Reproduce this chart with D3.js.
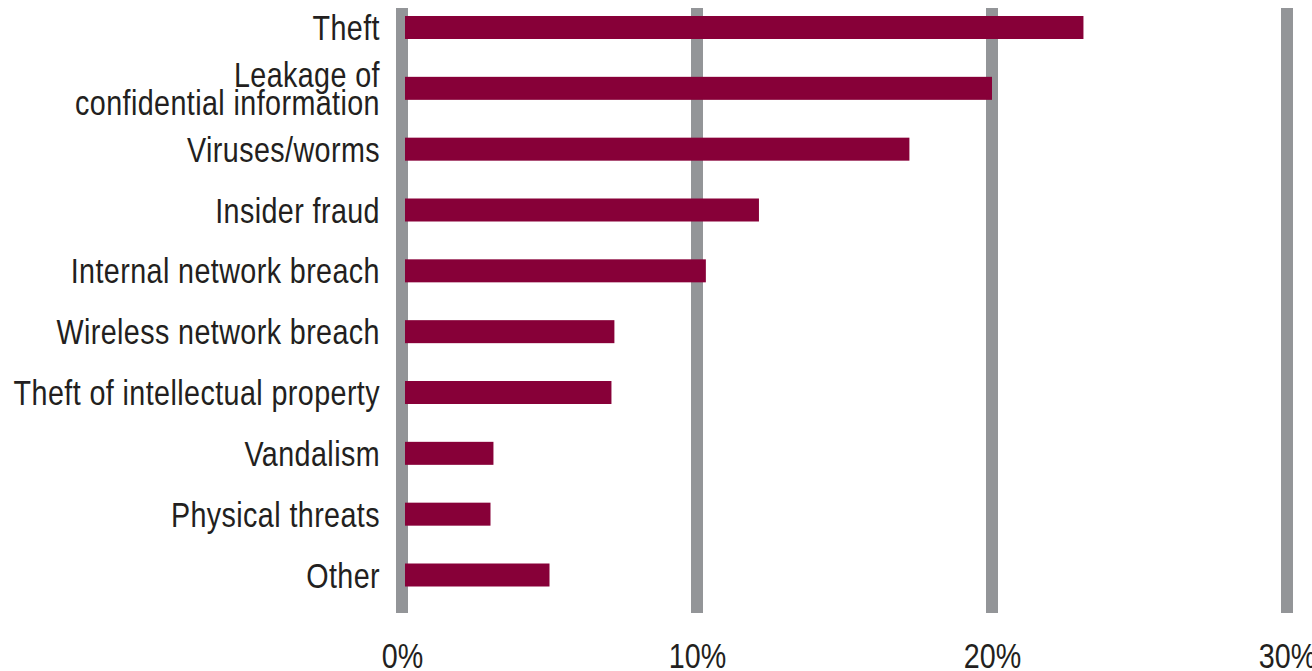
<!DOCTYPE html>
<html>
<head>
<meta charset="utf-8">
<script src="https://cdn.jsdelivr.net/npm/d3@7"></script>
<style>
  html, body { margin: 0; padding: 0; background: #ffffff; }
  svg { display: block; }
  text { font-family: "Liberation Sans", Arial, sans-serif; fill: #231f20; }
</style>
</head>
<body>
<svg id="chart" width="1312" height="671"></svg>
<script>
// Security incident types, share of respondents (%)
const categories = [
  ["Theft"],
  ["Leakage of", "confidential information"],
  ["Viruses/worms"],
  ["Insider fraud"],
  ["Internal network breach"],
  ["Wireless network breach"],
  ["Theft of intellectual property"],
  ["Vandalism"],
  ["Physical threats"],
  ["Other"]
];
const values = [23.1, 20.0, 17.2, 12.1, 10.3, 7.2, 7.1, 3.1, 3.0, 5.0];
const tickValues = [0, 10, 20, 30];
const tickLabels = ["0%", "10%", "20%", "30%"];

const svg = d3.select("#chart");
const keys = categories.map((c, i) => i);

const x = d3.scaleLinear().domain([0, 30]).range([402, 1287]);
const y = d3.scalePoint().domain(keys).range([27.5, 575]);
const barH = 23;
const gridTop = 8, gridBottom = 613;
const narrow = "scale(0.82,1)";   // condensed type

// vertical grid bars
svg.append("g")
  .selectAll("rect")
  .data(tickValues)
  .join("rect")
  .attr("x", d => x(d) - 6)
  .attr("y", gridTop)
  .attr("width", 12)
  .attr("height", gridBottom - gridTop)
  .attr("fill", "#939598");

// data bars
const inset = 3;
svg.append("g")
  .selectAll("rect")
  .data(values)
  .join("rect")
  .attr("x", x(0) + inset)
  .attr("y", (d, i) => y(i) - barH / 2)
  .attr("width", d => x(d) - x(0) - inset)
  .attr("height", barH)
  .attr("fill", "#870038");

// category labels
const lineGap = 28;
const labelX = 380;
const labels = svg.append("g")
  .selectAll("g")
  .data(categories)
  .join("g")
  .attr("transform", (d, i) => `translate(${labelX},${y(i) + 12.5 - (d.length - 1) * lineGap / 2})`)
  .append("text")
  .attr("transform", narrow)
  .attr("text-anchor", "end")
  .style("font-size", "35px")
  .style("letter-spacing", "0.5px");
labels.selectAll("tspan")
  .data(d => d)
  .join("tspan")
  .attr("x", 0)
  .attr("dy", (d, j) => j === 0 ? 0 : lineGap)
  .text(d => d);

// value axis
const axis = d3.axisBottom(x)
  .tickValues(tickValues)
  .tickFormat((d, i) => tickLabels[i])
  .tickSize(0);
const ax = svg.append("g").call(axis);
ax.select(".domain").remove();
ax.selectAll("text")
  .attr("y", 668)
  .attr("dy", null)
  .attr("transform", narrow)
  .attr("fill", "#231f20")
  .style("font-size", "35px")
  .style("font-family", "\"Liberation Sans\", Arial, sans-serif");
</script>
</body>
</html>
